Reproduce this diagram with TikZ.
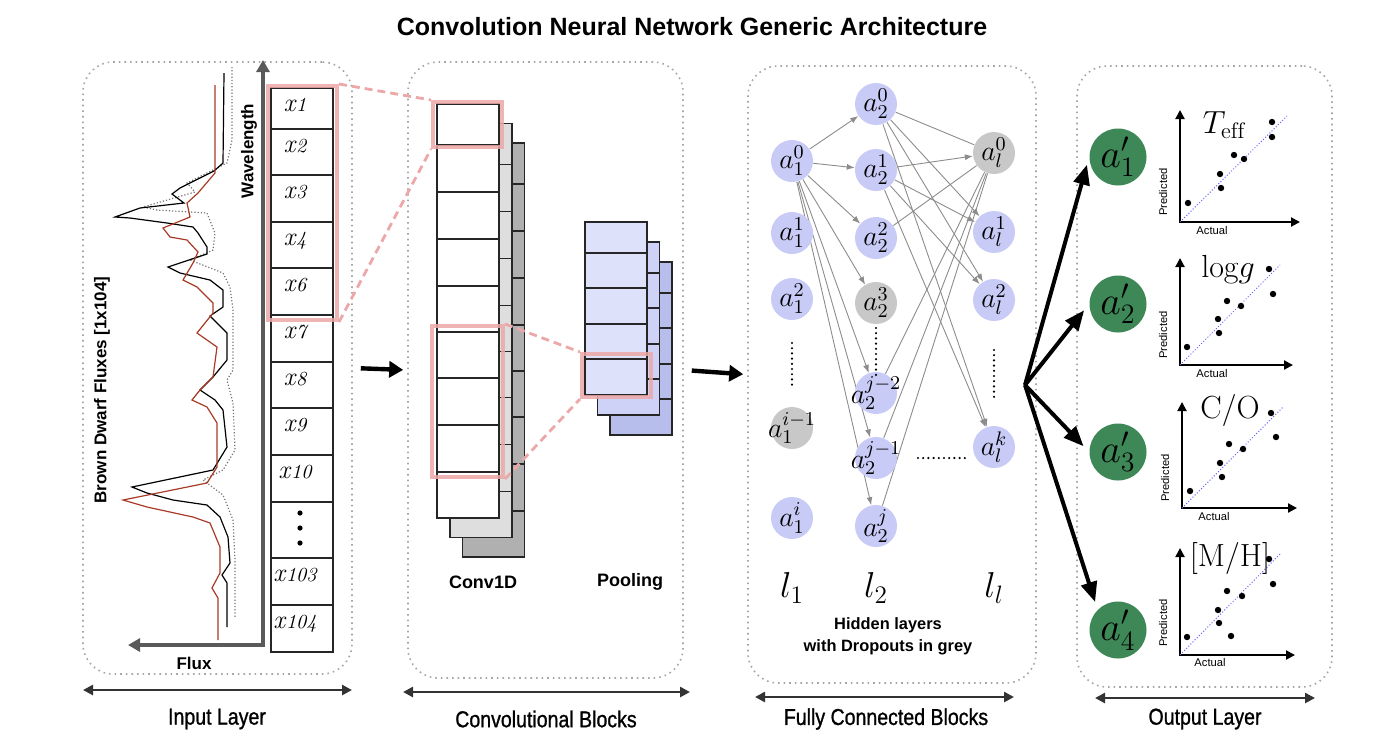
\RequirePackage{fix-cm}
\documentclass[tikz,border=0pt]{standalone}
\usepackage{fontspec}
\setsansfont{Liberation Sans}
\newfontfamily\condfont[FakeStretch=0.85, FakeBold=1]{Liberation Sans}
\usepackage{xcolor}
\usepackage{tikz}
\usetikzlibrary{arrows.meta, positioning, backgrounds}

\definecolor{nodeblue}{RGB}{199,203,246}
\definecolor{dropgrey}{RGB}{200,200,200}
\definecolor{outgreen}{RGB}{62,136,88}
\definecolor{convlight}{RGB}{222,222,222}
\definecolor{convdark}{RGB}{176,176,176}
\definecolor{poolone}{RGB}{222,225,250}
\definecolor{pooltwo}{RGB}{206,210,246}
\definecolor{poolthree}{RGB}{184,190,236}
\definecolor{hlpink}{RGB}{236,168,168}
\definecolor{specred}{RGB}{168,58,38}
\definecolor{axisgrey}{RGB}{90,90,90}

\begin{document}
\begin{tikzpicture}[
    x=0.5pt, y=-0.5pt,
    font=\sffamily,
    panel/.style={
      draw=black!35,
      dotted,
      line width=0.8pt,
      rounded corners=15pt,
      inner sep=0pt
    },
    span/.style={
      {Triangle[length=5pt,width=5pt]}-{Triangle[length=5pt,width=5pt]},
      line width=1.3pt,
      draw=black!80
    },
    layerlabel/.style={
      font=\condfont\fontsize{11.5}{13}\selectfont
    },
    boldlabel/.style={
      font=\sffamily\bfseries\fontsize{8.5}{10}\selectfont
    },
    flow/.style={
      -{Triangle[length=7pt,width=8pt]},
      line width=2.2pt,
      shorten <=4pt,
      shorten >=2pt
    },
    specaxis/.style={
      {Triangle[length=6pt,width=6.5pt]}-{Triangle[length=6pt,width=6.5pt]},
      draw=axisgrey,
      line width=1.8pt
    },
    specred/.style={draw=specred, line width=0.6pt},
    specblack/.style={draw=black, line width=0.6pt},
    specdots/.style={draw=black!55, densely dotted, line width=0.6pt},
    cellbox/.style={
      draw=black!85,
      line width=0.8pt
    },
    xlabel/.style={
      font=\rmfamily\itshape\fontsize{13}{13}\selectfont,
      anchor=base,
      inner sep=0pt
    },
    hilite/.style={
      draw=hlpink,
      line width=2pt,
      inner sep=0pt,
      opacity=0.85
    },
    zoomline/.style={
      draw=hlpink,
      line width=1.4pt,
      dash pattern=on 4pt off 2.5pt
    },
    fcnode/.style={
      circle,
      fill=nodeblue,
      minimum size=21pt,
      inner sep=0pt,
      font=\fontsize{14}{14}\selectfont
    },
    fcdrop/.style={
      fcnode,
      fill=dropgrey
    },
    link/.style={
      draw=black!45,
      line width=0.45pt
    },
    linkarrow/.style={
      link,
      -{Latex[length=4pt,width=3pt]}
    },
    ellip/.style={
      line width=1.2pt,
      line cap=round,
      dash pattern=on 0pt off 2.6pt
    },
    layername/.style={
      font=\fontsize{18}{18}\selectfont
    },
    outnode/.style={
      circle,
      fill=outgreen,
      minimum size=28.5pt,
      inner sep=0pt,
      font=\fontsize{20}{20}\selectfont
    },
    outarrow/.style={
      -{Triangle[length=10pt,width=8pt]},
      line width=2pt,
      shorten >=4pt
    },
    plotaxis/.style={
      {Triangle[length=4.5pt,width=4.5pt]}-{Triangle[length=4.5pt,width=4.5pt]},
      line width=1pt
    },
    fitline/.style={
      draw=blue!60,
      densely dotted,
      line width=0.5pt
    },
    plottitle/.style={
      font=\rmfamily\fontsize{16}{16}\selectfont,
      inner sep=0pt
    },
    axlabel/.style={
      font=\sffamily\fontsize{5.6}{6}\selectfont,
      inner sep=0pt
    }
  ]

    \useasboundingbox (0,0) rectangle (1384,752);

    % Title
    \node[font=\sffamily\bfseries\fontsize{12.5}{14}\selectfont] (title) at (692,27)
      {Convolution Neural Network Generic Architecture};

    % Dotted panels
    \node[panel, minimum width=134.5pt, minimum height=306pt] (inpanel) at (217.5,368) {};
    \node[panel, minimum width=137.5pt, minimum height=308pt] (convpanel) at (545.5,370) {};
    \node[panel, minimum width=144pt, minimum height=308.5pt] (fcpanel) at (892,374.5) {};
    \node[panel, minimum width=127.5pt, minimum height=310.5pt] (outpanel) at (1204.5,376.5) {};

    % Span arrows and layer names
    \coordinate (inl) at (83,690);    \coordinate (inr) at (352,690);
    \coordinate (convl) at (403,692); \coordinate (convr) at (690,692);
    \coordinate (fcl) at (755,697);   \coordinate (fcr) at (1014,697);
    \coordinate (outl) at (1095,698); \coordinate (outr) at (1315,698);
    \draw[span] (inl) -- (inr);
    \draw[span] (convl) -- (convr);
    \draw[span] (fcl) -- (fcr);
    \draw[span] (outl) -- (outr);
    \node[layerlabel] (inname) at (217,719) {Input Layer};
    \node[layerlabel] (convname) at (546,719) {Convolutional Blocks};
    \node[layerlabel] (fcname) at (886,719) {Fully Connected Blocks};
    \node[layerlabel] (outname) at (1205,719) {Output Layer};

    % Input spectra
    \draw[specdots] (232,67) -- (232,140) -- (227,163) -- (187,183) -- (195,192) -- (143,207)
      -- (157,210) -- (207,213) -- (215,233) -- (213,250) -- (190,260) -- (223,273) -- (230,287)
      -- (233,310) -- (233,370) -- (227,380) -- (233,403) -- (235,450) -- (223,470) -- (203,480)
      -- (223,495) -- (233,520) -- (235,560) -- (235,617);
    \draw[specblack] (224,73) -- (223,163) -- (214,171) -- (180,188) -- (172,194) -- (184,203)
      -- (140,208) -- (115,217) -- (130,218) -- (167,223) -- (193,227) -- (198,233) -- (207,247)
      -- (207,254) -- (168,267) -- (180,273) -- (210,280) -- (223,290) -- (223,307) -- (210,316)
      -- (227,333) -- (227,360) -- (213,377) -- (200,390) -- (215,400) -- (223,410) -- (227,447)
      -- (213,470) -- (132,487) -- (147,493) -- (173,500) -- (207,505) -- (220,517) -- (228,537)
      -- (230,563) -- (222,575) -- (227,583) -- (227,627);
    \draw[specred] (215,85) -- (215,173) -- (198,193) -- (187,203) -- (190,217) -- (163,228)
      -- (170,237) -- (187,240) -- (198,252) -- (193,263) -- (183,280) -- (197,287) -- (213,303)
      -- (213,313) -- (197,333) -- (217,347) -- (213,377) -- (200,390) -- (192,400) -- (207,407)
      -- (217,423) -- (217,467) -- (207,483) -- (123,500) -- (147,507) -- (193,517) -- (210,523)
      -- (220,547) -- (220,573) -- (212,588) -- (218,598) -- (218,640);

    % Flux / wavelength axes
    \coordinate (wavetip) at (263,60);
    \coordinate (axcorner) at (263,645);
    \coordinate (fluxtip) at (128,645);
    \draw[specaxis] (wavetip) -- (axcorner) -- (fluxtip);
    \node[boldlabel, rotate=90] (wavelab) at (249,151) {Wavelength};
    \node[boldlabel, rotate=90] (fluxname) at (102,390) {Brown Dwarf Fluxes [1x104]};
    \node[boldlabel] (fluxlab) at (194,663) {Flux};

    % Input vector
    \draw[cellbox] (271,88) rectangle (333,652);
    \foreach \cy in {129,175,222,268,315,362,408,455,502,558,605}
      \draw[cellbox] (271,\cy) -- (333,\cy);
    \foreach \lab/\ytop [count=\k] in {1/88,2/129,3/175,4/222,6/268,7/315,8/362,9/408,10/455,103/558,104/605}
      \node[xlabel] (x\k) at (295,\ytop+23) {x\kern0.5pt{\fontsize{10}{10}\selectfont\lab}};
    \foreach \dy in {513,528,543}
      \fill (300,\dy) circle (1.3pt);

    % Conv1D stack
    \foreach \k/\shade in {2/convdark, 1/convlight, 0/white} {
      \begin{scope}[shift={(12.8*\k,19.5*\k)}]
        \draw[cellbox, fill=\shade] (437,104) rectangle (499,518);
        \foreach \cy in {145,192,239,286,332,378,425,472}
          \draw[cellbox] (437,\cy) -- (499,\cy);
      \end{scope}
    }

    % Pooling stack
    \foreach \k/\shade in {2/poolthree, 1/pooltwo, 0/poolone} {
      \begin{scope}[shift={(12.5*\k,20*\k)}]
        \draw[cellbox, fill=\shade] (585,222) rectangle (647,395);
        \foreach \cy in {253,288,324,359}
          \draw[cellbox] (585,\cy) -- (647,\cy);
      \end{scope}
    }
    \node[boldlabel, font=\sffamily\bfseries\fontsize{9}{10}\selectfont] (convlab) at (483,582) {Conv1D};
    \node[boldlabel, font=\sffamily\bfseries\fontsize{9}{10}\selectfont] (poollab) at (630,582) {Pooling};

    % Receptive field highlights
    \node[hilite, minimum width=34.5pt, minimum height=117pt] (hlin) at (302.5,203) {};
    \node[hilite, minimum width=34.5pt, minimum height=22.5pt] (hlconvtop) at (467.5,124.5) {};
    \node[hilite, minimum width=35.5pt, minimum height=75.5pt] (hlconvmid) at (467.5,401.5) {};
    \node[hilite, minimum width=34.5pt, minimum height=21.5pt] (hlpool) at (616.5,375.5) {};
    \draw[zoomline] (hlin.north east) -- (hlconvtop.north west);
    \draw[zoomline] (hlin.south east) -- (hlconvtop.south west);
    \draw[zoomline] (hlconvmid.north east) -- (hlpool.north west);
    \draw[zoomline] (hlconvmid.south east) -- (hlpool.south west);

    % Flow between blocks
    \draw[flow] (inpanel.east) -- (convpanel.west);
    \draw[flow] (convpanel.east) -- (fcpanel.west);

    % Fully connected layers
    \node[fcnode] (a10) at (792,161) {\makebox[0pt]{$a_1^0$}};
    \node[fcnode] (a11) at (792,233) {\makebox[0pt]{$a_1^1$}};
    \node[fcnode] (a12) at (792,299) {\makebox[0pt]{$a_1^2$}};
    \node[fcdrop] (a1im) at (792,428) {\makebox[0pt]{$a_1^{i-1}$}};
    \node[fcnode] (a1i) at (792,518) {\makebox[0pt]{$a_1^i$}};

    \node[fcnode] (a20) at (876,104) {\makebox[0pt]{$a_2^0$}};
    \node[fcnode] (a21) at (876,170) {\makebox[0pt]{$a_2^1$}};
    \node[fcnode] (a22) at (876,238) {\makebox[0pt]{$a_2^2$}};
    \node[fcdrop] (a23) at (876,303) {\makebox[0pt]{$a_2^3$}};
    \node[fcnode] (a2jm2) at (876,393) {\makebox[0pt]{$a_2^{j-2}$}};
    \node[fcnode] (a2jm1) at (876,458) {\makebox[0pt]{$a_2^{j-1}$}};
    \node[fcnode] (a2j) at (876,526) {\makebox[0pt]{$a_2^j$}};

    \node[fcdrop] (al0) at (994,153) {\makebox[0pt]{$a_l^0$}};
    \node[fcnode] (al1) at (994,232) {\makebox[0pt]{$a_l^1$}};
    \node[fcnode] (al2) at (994,300) {\makebox[0pt]{$a_l^2$}};
    \node[fcnode] (alk) at (994,447) {\makebox[0pt]{$a_l^k$}};

    \draw[ellip] (792,343) -- (792,387);
    \draw[ellip] (876,328) -- (876,375);
    \draw[ellip] (994,350) -- (994,397);
    \draw[ellip] (918,458) -- (965,458);

    \begin{scope}[on background layer]
      \foreach \t in {a20,a21,a22,a23,a2jm2,a2jm1,a2j}
        \draw[linkarrow] (a10) -- (\t);
      \draw[link] (a20) -- (al0);
      \foreach \t in {al1,al2,alk}
        \draw[linkarrow] (a20) -- (\t);
      \foreach \t in {al0,al1,al2,alk}
        \draw[linkarrow] (a21) -- (\t);
      \foreach \s in {a22,a2jm2,a2jm1,a2j}
        \draw[link] (\s) -- (al0);
    \end{scope}

    \node[layername] (l1) at (792,588) {$l_1$};
    \node[layername] (l2) at (876,588) {$l_2$};
    \node[layername] (ll) at (994,588) {$l_l$};
    \node[font=\sffamily\bfseries\fontsize{8.2}{11}\selectfont, align=center] (hidden) at (888,636)
      {Hidden layers\\with Dropouts in grey};

    % Output neurons
    \node[outnode] (o1) at (1118,157) {$a'_1$};
    \node[outnode] (o2) at (1118,304) {$a'_2$};
    \node[outnode] (o3) at (1118,452) {$a'_3$};
    \node[outnode] (o4) at (1118,630) {$a'_4$};
    \coordinate (fork) at (1025,385);
    \draw[outarrow] (fork) -- (o1.west);
    \draw[outarrow] (fork) -- (o2.west);
    \draw[outarrow] (fork) -- (o3.west);
    \draw[outarrow] (fork) -- (o4.135);

    % Predicted vs actual plots
    \begin{scope}[shift={(1180,222)}]
      \draw[plotaxis] (0,-112) -- (0,0) -- (120,0);
      \draw[fitline] (0,0) -- (107,-106);
      \foreach \px/\py in {8/-19,40/-48,41/-34,54/-67,64/-63,92/-100,92/-85}
        \fill (\px,\py) circle (1.6pt);
      \node[plottitle] (teff) at (44,-97) {$T_{\mathrm{eff}}$};
      \node[axlabel, rotate=90] (teffy) at (-17,-30) {Predicted};
      \node[axlabel] (teffx) at (32,8) {Actual};
    \end{scope}

    \begin{scope}[shift={(1180,365)}]
      \draw[plotaxis] (0,-107) -- (0,0) -- (113,0);
      \draw[fitline] (0,0) -- (100,-100);
      \foreach \px/\py in {7/-18,38/-46,39/-32,47/-64,61/-59,89/-96,93/-71}
        \fill (\px,\py) circle (1.6pt);
      \node[plottitle] (logg) at (48,-95) {$\mathrm{log}g$};
      \node[axlabel, rotate=90] (loggy) at (-17,-30) {Predicted};
      \node[axlabel] (loggx) at (32,8) {Actual};
    \end{scope}

    \begin{scope}[shift={(1182,508)}]
      \draw[plotaxis] (0,-106) -- (0,0) -- (115,0);
      \draw[fitline] (0,0) -- (101,-101);
      \foreach \px/\py in {8/-17,38/-45,40/-31,47/-64,61/-59,89/-95,94/-71}
        \fill (\px,\py) circle (1.6pt);
      \node[plottitle] (co) at (48,-98) {C/O};
      \node[axlabel, rotate=90] (coy) at (-17,-30) {Predicted};
      \node[axlabel] (cox) at (32,8) {Actual};
    \end{scope}

    \begin{scope}[shift={(1180,655)}]
      \draw[plotaxis] (0,-107) -- (0,0) -- (115,0);
      \draw[fitline] (0,0) -- (101,-102);
      \foreach \px/\py in {7/-18,38/-45,39/-32,47/-64,62/-59,89/-96,93/-71,51/-19}
        \fill (\px,\py) circle (1.6pt);
      \node[plottitle] (mh) at (50,-97) {[M/H]};
      \node[axlabel, rotate=90] (mhy) at (-17,-32) {Predicted};
      \node[axlabel] (mhx) at (30,7) {Actual};
    \end{scope}

  \end{tikzpicture}
\end{document}
